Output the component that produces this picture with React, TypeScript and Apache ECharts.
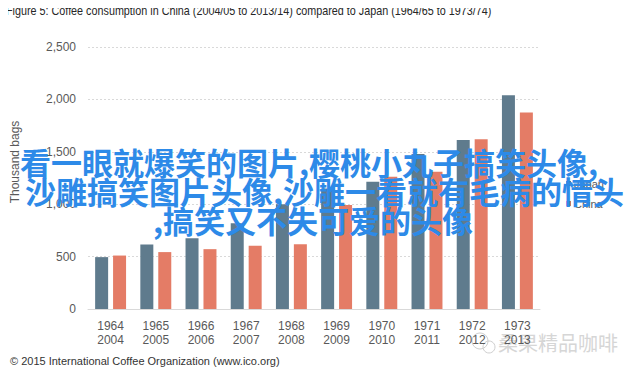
import React, { useEffect, useRef } from "react";
import * as echarts from "echarts";

const japanYears = ["1964", "1965", "1966", "1967", "1968", "1969", "1970", "1971", "1972", "1973"];
const chinaYears = ["2004", "2005", "2006", "2007", "2008", "2009", "2010", "2011", "2012", "2013"];
const japanValues = [495, 615, 676, 819, 1000, 1150, 1215, 1479, 1612, 2040];
const chinaValues = [510, 543, 571, 603, 619, 993, 1263, 1310, 1620, 1876];
const yTicks = [0, 500, 1000, 1500, 2000, 2500];

const titleText = "Figure 5: Coffee consumption in China (2004/05 to 2013/14) compared to Japan (1964/65 to 1973/74)";
const footerText = "\u00A9 2015 International Coffee Organization (www.ico.org)";
const overlayLines = [
  "看一眼就爆笑的图片,樱桃小丸子搞笑头像,",
  "沙雕搞笑图片头像,沙雕一看就有毛病的情头",
  ",搞笑又不失可爱的头像",
];
const watermarkText = "桑果精品咖啡";

export default function App() {
  const ref = useRef<HTMLDivElement>(null);
  useEffect(() => {
    if (!ref.current) return;
    const chart = echarts.init(ref.current, null, { renderer: "svg" });
    const categories = japanYears.map((y, i) => y + "\n" + chinaYears[i]);
    const font = "'Liberation Sans', Arial, sans-serif";
    chart.setOption({
      animation: false,
      backgroundColor: "#ffffff",
      textStyle: { fontFamily: font },
      grid: { left: 88, top: 47, width: 452, height: 262 },
      legend: {
        orient: "vertical",
        left: 561,
        top: 173,
        itemWidth: 5,
        itemHeight: 5,
        itemGap: 9,
        icon: "rect",
        textStyle: { fontSize: 11, color: "#595959", fontFamily: font, padding: [0, 0, 0, -2] },
        data: ["Japan", "China"],
      },
      xAxis: {
        type: "category",
        data: categories,
        axisLine: { show: true, lineStyle: { color: "#d9d9d9", width: 1 } },
        axisTick: { show: false },
        axisLabel: { color: "#595959", fontSize: 12, lineHeight: 14, margin: 10, fontFamily: font },
      },
      yAxis: {
        type: "value",
        min: 0,
        max: 2500,
        interval: 500,
        axisLine: { show: false },
        axisTick: { show: false },
        axisLabel: {
          color: "#595959",
          fontSize: 12,
          margin: 12,
          fontFamily: font,
          formatter: (v: number) => (yTicks.includes(v) ? v.toLocaleString("en-US") : ""),
        },
        splitLine: { lineStyle: { color: "#d9d9d9", type: [2, 2], width: 1 } },
      },
      series: [
        {
          name: "Japan",
          type: "bar",
          data: japanValues,
          barWidth: 13,
          barGap: "38%",
          itemStyle: { color: "#5f7b8d" },
        },
        {
          name: "China",
          type: "bar",
          data: chinaValues,
          barWidth: 13,
          itemStyle: { color: "#e47c66" },
        },
      ],
      graphic: [
        {
          type: "text",
          x: 6,
          y: 4,
          scaleX: 0.83,
          style: {
            text: titleText,
            fontSize: 13,
            fontFamily: font,
            fill: "#262626",
          },
        },
        {
          type: "text",
          x: 15,
          y: 162,
          rotation: Math.PI / 2,
          style: {
            text: "Thousand bags",
            fontSize: 12,
            fill: "#595959",
            fontFamily: font,
            align: "center",
            verticalAlign: "middle",
          },
        },
        {
          type: "text",
          left: 10,
          top: 355,
          style: { text: footerText, fontSize: 11, fill: "#333333", fontFamily: font },
        },
        {
          type: "circle",
          shape: { cx: 480, cy: 341, r: 8 },
          style: { fill: "none", stroke: "#cfcfcf", lineWidth: 1 },
        },
        {
          type: "circle",
          shape: { cx: 489, cy: 347, r: 6 },
          style: { fill: "none", stroke: "#cfcfcf", lineWidth: 1 },
        },
        {
          type: "text",
          x: 498,
          y: 342,
          style: {
            text: watermarkText,
            fontSize: 20,
            fill: "#d6d6d6",
            fontFamily: "'Noto Sans CJK SC', sans-serif",
            verticalAlign: "middle",
          },
        },
        ...overlayLines.map((line, i) => ({
          type: "text",
          x: [20, 25, 153][i],
          y: 161 + i * 29,
          z: 100,
          style: {
            text: line,
            fontSize: 31,
            fontWeight: "bold",
            fill: "#2d8ae8",
            fontFamily: "'Noto Sans CJK SC', sans-serif",
            verticalAlign: "middle",
          },
        })),
      ],
    });
    return () => chart.dispose();
  }, []);
  return <div ref={ref} style={{ width: 640, height: 377, margin: -8 }} />;
}
